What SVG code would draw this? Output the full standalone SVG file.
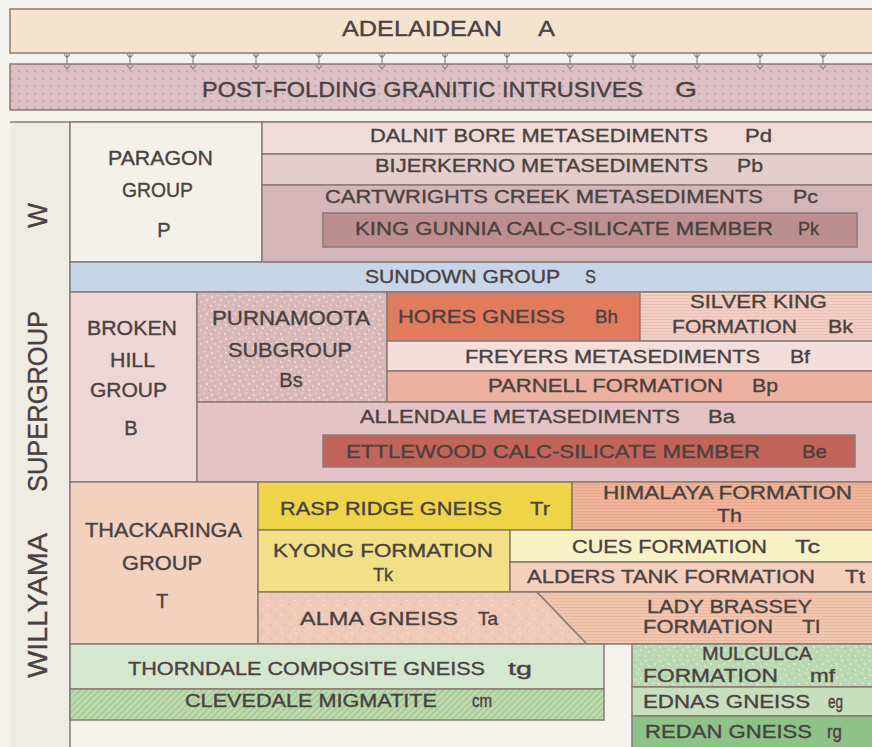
<svg xmlns="http://www.w3.org/2000/svg" width="872" height="747" viewBox="0 0 872 747">
<style>
  text { font-family: "Liberation Sans", Arial, sans-serif; fill: #4a4141; stroke: #4a4141; stroke-width: 0.35; }
  .lab { font-size: 18px; }
  .grp { font-size: 20px; }
  .big { font-size: 22px; }
  .side { font-size: 28px; }
  .c { text-anchor: middle; }
  .cell { stroke: #8a7b74; stroke-width: 1.5; }
  .tick { fill: none; stroke: #8a857b; stroke-width: 1.2; }
</style>
<defs>
  <pattern id="dots" width="8" height="7.5" patternUnits="userSpaceOnUse">
    <rect width="8" height="7.5" fill="#ddbfc6"/>
    <rect x="2" y="3" width="2.2" height="1.2" fill="#b6939e"/>
  </pattern>
  <pattern id="speckPink" width="14" height="14" patternUnits="userSpaceOnUse">
    <rect width="14" height="14" fill="#d9b8ba"/>
    <circle cx="2" cy="3" r="0.9" fill="#f4e6e6"/>
    <circle cx="8" cy="1.5" r="0.7" fill="#f6eaea"/>
    <circle cx="11" cy="6" r="1" fill="#f2e2e2"/>
    <circle cx="5" cy="8" r="0.8" fill="#f6ecec"/>
    <circle cx="1" cy="12" r="0.9" fill="#f1e0e0"/>
    <circle cx="9" cy="11" r="0.7" fill="#f7eded"/>
    <circle cx="12.5" cy="13" r="0.6" fill="#b89598"/>
    <circle cx="6" cy="4.5" r="0.6" fill="#b89598"/>
    <circle cx="3" cy="10" r="0.5" fill="#b89598"/>
  </pattern>
  <pattern id="speckAlma" width="14" height="14" patternUnits="userSpaceOnUse">
    <rect width="14" height="14" fill="#f0cab9"/>
    <circle cx="2" cy="3" r="0.8" fill="#f8e4da"/>
    <circle cx="9" cy="2" r="0.7" fill="#dcae9c"/>
    <circle cx="11" cy="8" r="0.8" fill="#f8e4da"/>
    <circle cx="5" cy="9" r="0.7" fill="#dcae9c"/>
    <circle cx="1" cy="12.5" r="0.8" fill="#f8e4da"/>
    <circle cx="10" cy="12" r="0.6" fill="#dcae9c"/>
  </pattern>
  <pattern id="speckGreen" width="14" height="14" patternUnits="userSpaceOnUse">
    <rect width="14" height="14" fill="#bad8b2"/>
    <circle cx="2" cy="3" r="0.9" fill="#e2efdc"/>
    <circle cx="8" cy="1.5" r="0.7" fill="#e6f1e0"/>
    <circle cx="11" cy="6" r="1" fill="#deecd8"/>
    <circle cx="5" cy="8" r="0.8" fill="#e4f0de"/>
    <circle cx="1" cy="12" r="0.9" fill="#deecd8"/>
    <circle cx="9" cy="11" r="0.7" fill="#e6f1e0"/>
    <circle cx="12.5" cy="13" r="0.6" fill="#93b68a"/>
    <circle cx="6" cy="4.5" r="0.6" fill="#93b68a"/>
  </pattern>
  <pattern id="hatch" width="4.5" height="4.5" patternUnits="userSpaceOnUse" patternTransform="rotate(45)">
    <rect width="4.5" height="4.5" fill="#bcd9ae"/>
    <line x1="0" y1="0" x2="0" y2="4.5" stroke="#95bb86" stroke-width="1.6"/>
  </pattern>
  <pattern id="stripeSK" width="6" height="3" patternUnits="userSpaceOnUse">
    <rect width="6" height="3" fill="#f2cfc4"/>
    <line x1="0" y1="1.5" x2="6" y2="1.5" stroke="#e8bdb1" stroke-width="0.8"/>
  </pattern>
  <pattern id="stripeLB" width="6" height="3" patternUnits="userSpaceOnUse">
    <rect width="6" height="3" fill="#f1c6b0"/>
    <line x1="0" y1="1.5" x2="6" y2="1.5" stroke="#e6b59e" stroke-width="0.8"/>
  </pattern>
  <pattern id="stripeHi" width="6" height="3" patternUnits="userSpaceOnUse">
    <rect width="6" height="3" fill="#efb49a"/>
    <line x1="0" y1="1.5" x2="6" y2="1.5" stroke="#e5a58a" stroke-width="0.8"/>
  </pattern>
</defs>

<rect width="872" height="747" fill="#f4f2ed"/>

<g id="adelaidean">
  <rect class="cell" x="10" y="9" width="870" height="44" fill="#f3e3cf"/>
  <text class="big" x="342" y="36" textLength="160" lengthAdjust="spacingAndGlyphs">ADELAIDEAN</text>
  <text class="big" x="538" y="36" textLength="17" lengthAdjust="spacingAndGlyphs">A</text>
</g>

<g id="granitic">
  <rect class="cell" x="10" y="64" width="870" height="46" fill="url(#dots)"/>
  <text class="big" x="202" y="97" textLength="441" lengthAdjust="spacingAndGlyphs">POST-FOLDING  GRANITIC  INTRUSIVES</text>
  <text class="big" x="675" y="97" textLength="22" lengthAdjust="spacingAndGlyphs">G</text>
</g>

<g id="unconformity-ticks">
  <path class="tick" d="M67,53 v12 M64,54 L67,58 L70,54 M64,65 L67,69 L70,65
    M130,53 v12 M127,54 L130,58 L133,54 M127,65 L130,69 L133,65
    M193,53 v12 M190,54 L193,58 L196,54 M190,65 L193,69 L196,65
    M256,53 v12 M253,54 L256,58 L259,54 M253,65 L256,69 L259,65
    M319,53 v12 M316,54 L319,58 L322,54 M316,65 L319,69 L322,65
    M382,53 v12 M379,54 L382,58 L385,54 M379,65 L382,69 L385,65
    M445,53 v12 M442,54 L445,58 L448,54 M442,65 L445,69 L448,65
    M507,53 v12 M504,54 L507,58 L510,54 M504,65 L507,69 L510,65
    M570,53 v12 M567,54 L570,58 L573,54 M567,65 L570,69 L573,65
    M633,53 v12 M630,54 L633,58 L636,54 M630,65 L633,69 L636,65
    M697,53 v12 M694,54 L697,58 L700,54 M694,65 L697,69 L700,65
    M760,53 v12 M757,54 L760,58 L763,54 M757,65 L760,69 L763,65
    M823,53 v12 M820,54 L823,58 L826,54 M820,65 L823,69 L826,65"/>
</g>

<g id="willyama">
  <rect x="10" y="122" width="60" height="625" fill="#efece5"/>
  <line x1="10" y1="122" x2="880" y2="122" stroke="#8a7b74" stroke-width="1.5"/>
  <line x1="70" y1="122" x2="70" y2="747" stroke="#8a7b74" stroke-width="1.5"/>
  <text class="side" transform="translate(47,228) rotate(-90)" textLength="25" lengthAdjust="spacingAndGlyphs">W</text>
  <text class="side" transform="translate(47,492) rotate(-90)" textLength="181" lengthAdjust="spacingAndGlyphs">SUPERGROUP</text>
  <text class="side" transform="translate(47,678) rotate(-90)" textLength="145" lengthAdjust="spacingAndGlyphs">WILLYAMA</text>
</g>

<g id="paragon">
  <rect class="cell" x="70" y="122" width="192" height="140" fill="#f4f1eb"/>
  <text class="grp" x="108" y="165" textLength="105" lengthAdjust="spacingAndGlyphs">PARAGON</text>
  <text class="grp" x="122" y="197" textLength="71" lengthAdjust="spacingAndGlyphs">GROUP</text>
  <text class="grp c" x="164" y="237">P</text>
</g>

<g id="dalnit">
  <rect class="cell" x="262" y="122" width="618" height="32" fill="#efdcd8"/>
  <text class="lab" x="370" y="142" textLength="338" lengthAdjust="spacingAndGlyphs">DALNIT BORE METASEDIMENTS</text>
  <text class="lab" x="745" y="142" textLength="27" lengthAdjust="spacingAndGlyphs">Pd</text>
</g>
<g id="bijerkerno">
  <rect class="cell" x="262" y="154" width="618" height="31" fill="#e6cdcd"/>
  <text class="lab" x="375" y="172" textLength="333" lengthAdjust="spacingAndGlyphs">BIJERKERNO METASEDIMENTS</text>
  <text class="lab" x="737" y="172" textLength="26" lengthAdjust="spacingAndGlyphs">Pb</text>
</g>
<g id="cartwrights">
  <rect class="cell" x="262" y="185" width="618" height="77" fill="#d4b6ba"/>
  <text class="lab" x="325" y="203" textLength="438" lengthAdjust="spacingAndGlyphs">CARTWRIGHTS CREEK METASEDIMENTS</text>
  <text class="lab" x="793" y="203" textLength="25" lengthAdjust="spacingAndGlyphs">Pc</text>
</g>
<g id="kinggunnia">
  <rect class="cell" x="323" y="213" width="534" height="34" fill="#bb8f8f"/>
  <text class="lab" x="355" y="235" textLength="418" lengthAdjust="spacingAndGlyphs">KING GUNNIA CALC-SILICATE MEMBER</text>
  <text class="lab" x="798" y="235" textLength="21" lengthAdjust="spacingAndGlyphs">Pk</text>
</g>

<g id="sundown">
  <rect class="cell" x="70" y="262" width="810" height="30" fill="#c6d6e8"/>
  <text class="lab" x="365" y="283" textLength="195" lengthAdjust="spacingAndGlyphs">SUNDOWN GROUP</text>
  <text class="lab" x="585" y="283" textLength="11" lengthAdjust="spacingAndGlyphs">S</text>
</g>

<g id="brokenhill">
  <rect class="cell" x="70" y="292" width="127" height="190" fill="#eed5d6"/>
  <text class="grp" x="87" y="335" textLength="90" lengthAdjust="spacingAndGlyphs">BROKEN</text>
  <text class="grp" x="110" y="367" textLength="45" lengthAdjust="spacingAndGlyphs">HILL</text>
  <text class="grp" x="90" y="397" textLength="77" lengthAdjust="spacingAndGlyphs">GROUP</text>
  <text class="grp c" x="131" y="435">B</text>
</g>

<g id="purnamoota">
  <rect class="cell" x="197" y="292" width="190" height="110" fill="url(#speckPink)"/>
  <text class="grp" x="212" y="325" textLength="158" lengthAdjust="spacingAndGlyphs">PURNAMOOTA</text>
  <text class="grp" x="228" y="357" textLength="124" lengthAdjust="spacingAndGlyphs">SUBGROUP</text>
  <text class="grp c" x="291" y="387">Bs</text>
</g>

<g id="hores">
  <rect class="cell" x="387" y="292" width="253" height="49" fill="#e07b5d"/>
  <text class="lab" x="398" y="323" textLength="167" lengthAdjust="spacingAndGlyphs">HORES GNEISS</text>
  <text class="lab" x="595" y="323" textLength="23" lengthAdjust="spacingAndGlyphs">Bh</text>
</g>
<g id="silverking">
  <rect class="cell" x="640" y="292" width="240" height="49" fill="url(#stripeSK)"/>
  <text class="lab" x="690" y="308" textLength="137" lengthAdjust="spacingAndGlyphs">SILVER KING</text>
  <text class="lab" x="672" y="333" textLength="125" lengthAdjust="spacingAndGlyphs">FORMATION</text>
  <text class="lab" x="828" y="333" textLength="25" lengthAdjust="spacingAndGlyphs">Bk</text>
</g>
<g id="freyers">
  <rect class="cell" x="387" y="341" width="493" height="30" fill="#f4dedb"/>
  <text class="lab" x="465" y="363" textLength="295" lengthAdjust="spacingAndGlyphs">FREYERS METASEDIMENTS</text>
  <text class="lab" x="790" y="363" textLength="20" lengthAdjust="spacingAndGlyphs">Bf</text>
</g>
<g id="parnell">
  <rect class="cell" x="387" y="371" width="493" height="31" fill="#ecb0a0"/>
  <text class="lab" x="488" y="392" textLength="235" lengthAdjust="spacingAndGlyphs">PARNELL FORMATION</text>
  <text class="lab" x="752" y="392" textLength="26" lengthAdjust="spacingAndGlyphs">Bp</text>
</g>
<g id="allendale">
  <rect class="cell" x="197" y="402" width="683" height="80" fill="#e3c3c5"/>
  <text class="lab" x="360" y="423" textLength="320" lengthAdjust="spacingAndGlyphs">ALLENDALE METASEDIMENTS</text>
  <text class="lab" x="708" y="423" textLength="27" lengthAdjust="spacingAndGlyphs">Ba</text>
</g>
<g id="ettlewood">
  <rect class="cell" x="323" y="435" width="532" height="32" fill="#c2645a"/>
  <text class="lab" x="346" y="458" textLength="414" lengthAdjust="spacingAndGlyphs">ETTLEWOOD CALC-SILICATE MEMBER</text>
  <text class="lab" x="802" y="458" textLength="25" lengthAdjust="spacingAndGlyphs">Be</text>
</g>

<g id="thackaringa">
  <rect class="cell" x="70" y="482" width="188" height="162" fill="#f2d1be"/>
  <text class="grp" x="85" y="537" textLength="157" lengthAdjust="spacingAndGlyphs">THACKARINGA</text>
  <text class="grp" x="122" y="570" textLength="80" lengthAdjust="spacingAndGlyphs">GROUP</text>
  <text class="grp c" x="162" y="608">T</text>
</g>
<g id="raspridge">
  <rect class="cell" x="258" y="482" width="314" height="48" fill="#f0d447"/>
  <text class="lab" x="280" y="515" textLength="222" lengthAdjust="spacingAndGlyphs">RASP RIDGE GNEISS</text>
  <text class="lab" x="530" y="515" textLength="20" lengthAdjust="spacingAndGlyphs">Tr</text>
</g>
<g id="himalaya">
  <rect class="cell" x="572" y="482" width="308" height="48" fill="url(#stripeHi)"/>
  <text class="lab" x="603" y="499" textLength="249" lengthAdjust="spacingAndGlyphs">HIMALAYA FORMATION</text>
  <text class="lab" x="717" y="522" textLength="25" lengthAdjust="spacingAndGlyphs">Th</text>
</g>
<g id="kyong">
  <rect class="cell" x="258" y="530" width="252" height="62" fill="#f1e085"/>
  <text class="lab" x="273" y="557" textLength="220" lengthAdjust="spacingAndGlyphs">KYONG  FORMATION</text>
  <text class="lab" x="373" y="581" textLength="20" lengthAdjust="spacingAndGlyphs">Tk</text>
</g>
<g id="cues">
  <rect class="cell" x="510" y="530" width="370" height="32" fill="#f9f1c6"/>
  <text class="lab" x="572" y="553" textLength="195" lengthAdjust="spacingAndGlyphs">CUES FORMATION</text>
  <text class="lab" x="795" y="553" textLength="25" lengthAdjust="spacingAndGlyphs">Tc</text>
</g>
<g id="alderstank">
  <rect class="cell" x="510" y="562" width="370" height="30" fill="#f3cfbe"/>
  <text class="lab" x="527" y="583" textLength="288" lengthAdjust="spacingAndGlyphs">ALDERS TANK FORMATION</text>
  <text class="lab" x="845" y="583" textLength="20" lengthAdjust="spacingAndGlyphs">Tt</text>
</g>
<g id="alma">
  <polygon class="cell" points="258,592 537,592 587,644 258,644" fill="url(#speckAlma)"/>
  <text class="lab" x="300" y="625" textLength="158" lengthAdjust="spacingAndGlyphs">ALMA GNEISS</text>
  <text class="lab" x="478" y="625" textLength="20" lengthAdjust="spacingAndGlyphs">Ta</text>
</g>
<g id="ladybrassey">
  <polygon class="cell" points="537,592 880,592 880,644 587,644" fill="url(#stripeLB)"/>
  <text class="lab" x="647" y="613" textLength="165" lengthAdjust="spacingAndGlyphs">LADY BRASSEY</text>
  <text class="lab" x="643" y="633" textLength="130" lengthAdjust="spacingAndGlyphs">FORMATION</text>
  <text class="lab" x="802" y="633" textLength="18" lengthAdjust="spacingAndGlyphs">Tl</text>
</g>

<g id="thorndale">
  <rect class="cell" x="70" y="644" width="534" height="45" fill="#d4e7cf"/>
  <text class="lab" x="128" y="675" textLength="357" lengthAdjust="spacingAndGlyphs">THORNDALE COMPOSITE GNEISS</text>
  <text class="lab" x="508" y="675" textLength="24" lengthAdjust="spacingAndGlyphs">tg</text>
</g>
<g id="clevedale">
  <rect class="cell" x="70" y="689" width="534" height="31" fill="url(#hatch)"/>
  <text class="lab" x="185" y="707" textLength="252" lengthAdjust="spacingAndGlyphs">CLEVEDALE MIGMATITE</text>
  <text class="lab" x="472" y="707" textLength="20" lengthAdjust="spacingAndGlyphs">cm</text>
</g>
<g id="mulculca">
  <rect class="cell" x="632" y="644" width="248" height="43" fill="url(#speckGreen)"/>
  <text class="lab" x="702" y="660" textLength="110" lengthAdjust="spacingAndGlyphs">MULCULCA</text>
  <text class="lab" x="643" y="682" textLength="135" lengthAdjust="spacingAndGlyphs">FORMATION</text>
  <text class="lab" x="810" y="682" textLength="25" lengthAdjust="spacingAndGlyphs">mf</text>
</g>
<g id="ednas">
  <rect class="cell" x="632" y="687" width="248" height="29" fill="#c6e0bd"/>
  <text class="lab" x="643" y="708" textLength="167" lengthAdjust="spacingAndGlyphs">EDNAS GNEISS</text>
  <text class="lab" x="828" y="708" textLength="15" lengthAdjust="spacingAndGlyphs">eg</text>
</g>
<g id="redan">
  <rect class="cell" x="632" y="716" width="248" height="34" fill="#8dc387"/>
  <text class="lab" x="645" y="738" textLength="167" lengthAdjust="spacingAndGlyphs">REDAN GNEISS</text>
  <text class="lab" x="827" y="738" textLength="15" lengthAdjust="spacingAndGlyphs">rg</text>
</g>
</svg>
